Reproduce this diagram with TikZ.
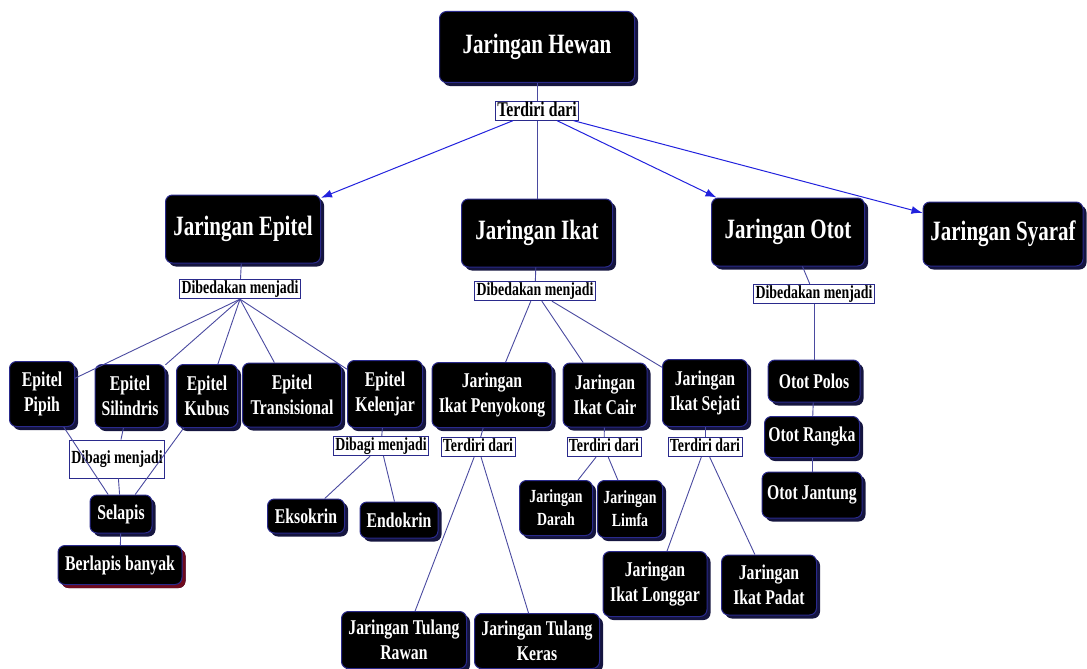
\documentclass[tikz,border=0pt]{standalone}
\usepackage{fontspec}
\newfontfamily\kotakfont{Liberation Serif}[FakeStretch=0.75]
\usetikzlibrary{arrows.meta, shadows}

\definecolor{tepibiru}{HTML}{2A2A8C}
\definecolor{bayang}{HTML}{15153F}
\definecolor{bayangmerah}{HTML}{6E0A1E}
\definecolor{garis}{HTML}{4A4AA0}
\definecolor{panahbiru}{HTML}{2222DD}

\begin{document}
\begin{tikzpicture}[x=1pt, y=-1pt,
        kotak/.style={rounded corners=7pt, fill=black, draw=tepibiru, line width=1pt,
            text=white, align=center, inner sep=3pt,
            font=\kotakfont\bfseries\fontsize{21}{25}\selectfont,
            drop shadow={shadow xshift=3.5pt, shadow yshift=-3.5pt, fill=bayang, opacity=1}},
        kotak_besar/.style={kotak, font=\kotakfont\bfseries\fontsize{28}{32}\selectfont},
        kotak_kecil/.style={kotak, font=\kotakfont\bfseries\fontsize{18.5}{23}\selectfont},
        ukuran/.style 2 args={minimum width=#1pt, minimum height=#2pt},
        keterangan/.style={draw=tepibiru, fill=white, line width=0.8pt, text=black,
            font=\kotakfont\bfseries\fontsize{18.5}{20}\selectfont,
            inner xsep=2pt, inner ysep=1pt, text height=13.5pt, text depth=4pt},
        garis_biasa/.style={draw=garis, line width=0.9pt},
        panah/.style={draw=panahbiru, line width=1pt, -{Latex[length=11pt, width=8pt]}}
    ]
    \useasboundingbox (0,0) rectangle (1087,669);

    % Radice
    \node[kotak_besar, ukuran={195}{71}] (hewan) at (537,47) {Jaringan Hewan};
    \node[keterangan, font=\kotakfont\bfseries\fontsize{21}{22}\selectfont,
          text height=15pt, text depth=3.5pt, inner ysep=0pt] (terdiri) at (537,111) {Terdiri dari};

    % Quattro tessuti
    \node[kotak_besar, ukuran={155}{68}] (epitel) at (243,229) {Jaringan Epitel};
    \node[kotak_besar, ukuran={151}{68}] (ikat) at (537,233) {Jaringan Ikat};
    \node[kotak_besar, ukuran={153}{68}] (otot) at (788,232) {Jaringan Otot};
    \node[kotak_besar, ukuran={160}{64}] (syaraf) at (1003,234) {Jaringan Syaraf};

    \node[keterangan] (beda_epitel) at (240,289) {Dibedakan menjadi};
    \node[keterangan] (beda_ikat) at (535,291) {Dibedakan menjadi};
    \node[keterangan] (beda_otot) at (814,294) {Dibedakan menjadi};

    % Epitel
    \node[kotak, ukuran={65}{65}] (pipih) at (42,394) {Epitel\\Pipih};
    \node[kotak, ukuran={70}{63}] (silindris) at (130,396) {Epitel\\Silindris};
    \node[kotak, ukuran={61}{63}] (kubus) at (207,396) {Epitel\\Kubus};
    \node[kotak, ukuran={99}{64}] (transisional) at (292,395) {Epitel\\Transisional};
    \node[kotak, ukuran={75}{67}] (kelenjar) at (385,394) {Epitel\\Kelenjar};

    \node[keterangan, ukuran={95}{38}] (bagi_epitel) at (117,459) {Dibagi menjadi};
    \node[kotak, ukuran={62}{38}] (selapis) at (121,514) {Selapis};
    \node[kotak, ukuran={124}{39}, drop shadow={shadow xshift=3.5pt, shadow yshift=-3.5pt, fill=bayangmerah, opacity=1}] (berlapis) at (120,565) {Berlapis banyak};

    \node[keterangan] (bagi_kelenjar) at (381,446) {Dibagi menjadi};
    \node[kotak, ukuran={77}{34}] (eksokrin) at (306,516) {Eksokrin};
    \node[kotak, ukuran={78}{36}] (endokrin) at (399,520) {Endokrin};

    % Ikat
    \node[kotak, ukuran={120}{65}] (penyokong) at (492,395) {Jaringan\\Ikat Penyokong};
    \node[kotak, ukuran={84}{64}] (cair) at (605,395) {Jaringan\\Ikat Cair};
    \node[kotak, ukuran={85}{67}] (sejati) at (705,393) {Jaringan\\Ikat Sejati};

    \node[keterangan] (terdiri_penyokong) at (478,447) {Terdiri dari};
    \node[keterangan] (terdiri_cair) at (604,447) {Terdiri dari};
    \node[keterangan] (terdiri_sejati) at (705,447) {Terdiri dari};

    \node[kotak_kecil, ukuran={73}{55}] (darah) at (556,508) {Jaringan\\Darah};
    \node[kotak_kecil, ukuran={65}{57}] (limfa) at (630,509) {Jaringan\\Limfa};
    \node[kotak, ukuran={104}{65}] (longgar) at (655,584) {Jaringan\\Ikat Longgar};
    \node[kotak, ukuran={95}{60}] (padat) at (769,585) {Jaringan\\Ikat Padat};
    \node[kotak, ukuran={125}{57}] (rawan) at (404,640) {Jaringan Tulang\\Rawan};
    \node[kotak, ukuran={125}{55}] (keras) at (537,641) {Jaringan Tulang\\Keras};

    % Otot
    \node[kotak, ukuran={92}{42}] (polos) at (814,381) {Otot Polos};
    \node[kotak, ukuran={95}{41}] (rangka) at (812,437) {Otot Rangka};
    \node[kotak, ukuran={100}{46}] (jantung) at (812,495) {Otot Jantung};

    % Collegamenti
    \draw[garis_biasa] (hewan) -- (terdiri);
    \draw[panah] (terdiri) -- (epitel);
    \draw[garis_biasa] (terdiri) -- (ikat);
    \draw[panah] (terdiri) -- (otot);
    \draw[panah] (terdiri) -- (syaraf);

    \draw[garis_biasa] (epitel) -- (beda_epitel);
    \foreach \anak in {pipih, silindris, kubus, transisional, kelenjar}
        \draw[garis_biasa] (beda_epitel.south) -- (\anak);
    \draw[garis_biasa] (pipih) -- (selapis);
    \draw[garis_biasa] (kubus) -- (selapis);
    \draw[garis_biasa] (silindris) -- (bagi_epitel);
    \draw[garis_biasa] (bagi_epitel) -- (selapis);
    \draw[garis_biasa] (selapis) -- (berlapis);
    \draw[garis_biasa] (kelenjar) -- (bagi_kelenjar);
    \draw[garis_biasa] (bagi_kelenjar) -- (eksokrin);
    \draw[garis_biasa] (bagi_kelenjar) -- (endokrin);

    \draw[garis_biasa] (ikat) -- (beda_ikat);
    \foreach \anak in {penyokong, cair, sejati}
        \draw[garis_biasa] (beda_ikat) -- (\anak);
    \draw[garis_biasa] (penyokong) -- (terdiri_penyokong);
    \draw[garis_biasa] (terdiri_penyokong) -- (rawan);
    \draw[garis_biasa] (terdiri_penyokong) -- (keras);
    \draw[garis_biasa] (cair) -- (terdiri_cair);
    \draw[garis_biasa] (terdiri_cair) -- (darah);
    \draw[garis_biasa] (terdiri_cair) -- (limfa);
    \draw[garis_biasa] (sejati) -- (terdiri_sejati);
    \draw[garis_biasa] (terdiri_sejati) -- (longgar);
    \draw[garis_biasa] (terdiri_sejati) -- (padat);

    \draw[garis_biasa] (otot) -- (beda_otot);
    \draw[garis_biasa] (beda_otot) -- (polos);
    \draw[garis_biasa] (polos) -- (rangka);
    \draw[garis_biasa] (rangka) -- (jantung);
\end{tikzpicture}
\end{document}
